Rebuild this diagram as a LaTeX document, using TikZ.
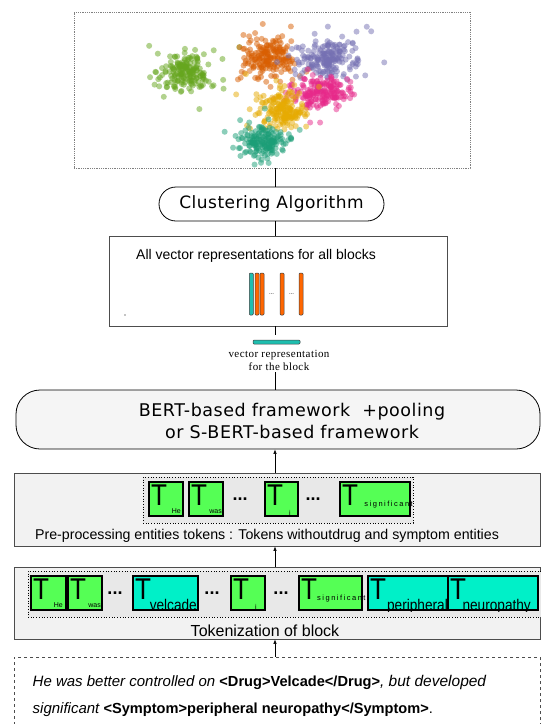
\documentclass[tikz,border=0pt]{standalone}
\usepackage{fontspec}
\setmainfont{Liberation Sans}
\newfontfamily\dvs{DejaVu Sans}
\newfontfamily\lserif{Liberation Serif}
\usetikzlibrary{calc,arrows.meta}
\definecolor{tgreen}{RGB}{85,255,85}
\definecolor{tteal}{RGB}{0,240,200}
\definecolor{vteal}{RGB}{30,190,175}
\definecolor{vorange}{RGB}{255,102,0}
\definecolor{dkteal}{HTML}{1B9E77}
\definecolor{dkorange}{HTML}{D95F02}
\definecolor{dkpurple}{HTML}{7570B3}
\definecolor{dkpink}{HTML}{E7298A}
\definecolor{dkgreen}{HTML}{66A61E}
\definecolor{dkyellow}{HTML}{E6AB02}
\definecolor{boxline}{HTML}{4D4D4D}
\definecolor{panelfill}{HTML}{F2F2F2}
\definecolor{innerfill}{HTML}{E8E8E8}
\tikzset{
  conn/.style={draw=black, line width=0.6pt},
  arr/.style={draw=black, line width=0.6pt, -{Latex[length=4.5pt,width=3.5pt]}},
  panel/.style={draw=boxline, line width=0.8pt, fill=panelfill, inner sep=0pt},
  inner/.style={draw=black, dotted, line width=0.7pt, fill=innerfill, inner sep=0pt},
  tok/.style={draw=black, line width=2pt, inner sep=0pt, minimum height=34pt},
  bigT/.style={anchor=north west, inner sep=0pt, font=\fontsize{30}{30}\selectfont},
  subs/.style={anchor=south east, inner sep=0pt, font=\fontsize{7}{7}\selectfont},
  widesub/.style={anchor=base east, inner sep=0pt, font=\fontsize{15.5}{15.5}\selectfont},
  dots/.style={inner sep=0pt, font=\fontsize{18}{18}\selectfont\bfseries},
  pt/.style={fill=#1, fill opacity=0.5},
}
\newcommand\bigTT{\scalebox{0.87}[1]{T}}
\newcommand\condensed[1]{\scalebox{0.88}[1]{#1}}
\begin{document}
\begin{tikzpicture}[x=1pt,y=-1pt]
\useasboundingbox (0,0) rectangle (541,724);
\coordinate (axis) at (275,0);

% ---------- scatter plot ----------
\node[draw=gray, densely dotted, line width=0.8pt, fill=white, minimum width=396pt, minimum height=156pt, inner sep=0pt] (scat) at (272,90) {};
\pgfmathsetseed{11}
\foreach \cx/\cy/\sx/\sy/\n/\col in {
  184/73/11/8/140/dkgreen, 188/76/22/16/40/dkgreen,
  267/58/12/9/160/dkorange, 266/60/22/17/35/dkorange,
  325/60/15/10/160/dkpurple, 325/60/22/16/30/dkpurple,
  322/92/15/7/160/dkpink, 322/92/22/12/25/dkpink,
  281/108/11/9/150/dkyellow, 280/106/20/15/25/dkyellow,
  263/142/11/8/140/dkteal, 262/140/20/14/25/dkteal}{
  \foreach \k in {1,...,\n}{
    \pgfmathsetmacro\px{\cx+\sx*(rand+rand+rand)}
    \pgfmathsetmacro\py{\cy+\sy*(rand+rand+rand)}
    \fill[pt=\col] (\px,\py) circle[radius=3];
  }
}

% ---------- clustering ----------
\node[draw=black, line width=0.8pt, fill=white, rounded corners=17pt, minimum width=225pt, minimum height=34pt, inner sep=0pt,
      font=\dvs\addfontfeatures{LetterSpace=3}\fontsize{17}{17}\selectfont] (clus) at (271.5,204) {Clustering Algorithm};

% ---------- vector box ----------
\node[draw=boxline, line width=0.8pt, fill=white, minimum width=338pt, minimum height=90pt, inner sep=0pt] (vec) at (278,281) {};
\node[anchor=west, inner sep=0pt, font=\fontsize{14}{14}\selectfont] (vtitle) at (136,256) {All vector representations for all blocks};
\foreach \bx/\bc [count=\i] in {251.3/vteal, 257/vorange, 262/vorange, 282/vorange, 301/vorange}{
  \node[draw=black!75, line width=0.5pt, fill=\bc, rounded corners=1pt, minimum width=4pt, minimum height=42pt, inner sep=0pt] (bar\i) at (\bx,294) {};
}
\node[inner sep=0pt, font=\fontsize{6}{6}\selectfont] (vd1) at (271.5,294) {...};
\node[inner sep=0pt, font=\fontsize{6}{6}\selectfont] (vd2) at (291.5,294) {...};
\fill (125,315) circle[radius=0.7];

\node[draw=black!75, line width=0.5pt, fill=vteal, rounded corners=1pt, minimum width=47pt, minimum height=4pt, inner sep=0pt] (vbar) at (276.5,342) {};
\coordinate (vtick) at (275,335);
\node[align=center, inner sep=2pt, font=\lserif\addfontfeatures{LetterSpace=4}\fontsize{11}{13}\selectfont] (vtxt) at (279,360) {vector representation\\for the block};

% ---------- BERT ----------
\node[draw=black, line width=0.8pt, fill=white!96!black, rounded corners=24pt, minimum width=524pt, minimum height=59pt, inner sep=0pt] (bert) at (278,419.5) {};
\node[inner sep=0pt, align=center, font=\dvs\addfontfeatures{LetterSpace=3}\fontsize{17.5}{22}\selectfont] (berttxt) at (292,421) {BERT-based framework\ \ +pooling\\or S-BERT-based framework};

% ---------- pre-processing ----------
\node[panel, minimum width=526pt, minimum height=73pt] (pre) at (277,509.5) {};
\node[inner, minimum width=270pt, minimum height=46pt] (preIn) at (278,500) {};
\foreach \nm/\cx/\w in {pHe/166/34, pwas/206/34, pi/281.5/33, psig/375/70}{
  \node[tok, fill=tgreen, minimum width=\w pt] (\nm) at (\cx,498.5) {};
  \node[bigT] (\nm T) at ([xshift=3pt,yshift=-4pt]\nm.north west) {\bigTT};
}
\node[subs] (pHes) at ([xshift=-3pt,yshift=3pt]pHe.south east) {He};
\node[subs] (pwass) at ([xshift=-2pt,yshift=3pt]pwas.south east) {was};
\node[subs] (pis) at ([xshift=-8pt,yshift=1pt]pi.south east) {i};
\node[anchor=east, inner sep=0pt, font=\fontsize{7.5}{7.5}\selectfont\addfontfeatures{LetterSpace=20}] (psigs) at ([xshift=2pt,yshift=-6pt]psig.east) {significant};
\node[dots] (pd1) at (240,499) {...};
\node[dots] (pd2) at (313,499) {...};
\node[inner sep=0pt, font=\fontsize{14.2}{14.2}\selectfont] (prelab) at (267,536) {Pre-processing entities tokens : Tokens withoutdrug and symptom entities};

% ---------- tokenization ----------
\node[panel, minimum width=526pt, minimum height=72pt] (tok) at (277,603) {};
\node[inner, minimum width=517pt, minimum height=46pt] (tokIn) at (286.5,594) {};
\foreach \nm/\cx/\w/\c in {tHe/48.5/35/tgreen, twas/85/34/tgreen, tvel/165.5/65/tteal, ti/248/34/tgreen, tsig/330.5/63/tgreen, tper/408/80/tteal, tneu/493/90/tteal}{
  \node[tok, fill=\c, minimum width=\w pt] (\nm) at (\cx,593) {};
  \node[bigT] (\nm T) at ([xshift=3pt,yshift=-4pt]\nm.north west) {\bigTT};
}
\node[subs] (tHes) at ([xshift=-4pt,yshift=3pt]tHe.south east) {He};
\node[subs] (twass) at ([xshift=-2pt,yshift=3pt]twas.south east) {was};
\node[subs] (tis) at ([xshift=-9pt,yshift=1pt]ti.south east) {i};
\node[anchor=west, inner sep=0pt, font=\fontsize{7.5}{7.5}\selectfont\addfontfeatures{LetterSpace=20}] (tsigs) at ([xshift=19pt,yshift=-6pt]tsig.west) {significant};
\foreach \nm/\txt/\dx in {tvel/velcade/-2, tper/peripheral/-1, tneu/neuropathy/-8}{
  \begin{scope}
    \clip (\nm.south west) rectangle (\nm.north east);
    \node[widesub] (\nm s) at ([xshift=\dx pt,yshift=1pt]\nm.south east) {\condensed{\txt}};
  \end{scope}
}
\node[dots] (td1) at (115,593) {...};
\node[dots] (td2) at (212,593) {...};
\node[dots] (td3) at (281,593) {...};
\node[inner sep=0pt, font=\fontsize{16}{16}\selectfont] (toklab) at (265,631) {Tokenization of block};

% ---------- sentence ----------
\node[draw=boxline, dashed, line width=0.6pt, fill=white, minimum width=526pt, minimum height=83pt, inner sep=0pt] (sent) at (277,698.5) {};
\node[anchor=base west, inner sep=0pt, font=\fontsize{15}{15}\selectfont] (s1) at (32.5,686) {\itshape He was better controlled on \upshape\bfseries\fontsize{14.6}{15}\selectfont <Drug>Velcade</Drug>\mdseries\itshape\fontsize{15.5}{15}\selectfont , but developed};
\node[anchor=base west, inner sep=0pt, font=\fontsize{15}{15}\selectfont] (s2) at (32.5,713) {\itshape significant \upshape\bfseries\fontsize{14.6}{15}\selectfont <Symptom>peripheral neuropathy</Symptom>\mdseries .};

% ---------- connectors ----------
\draw[conn] (scat.south -| axis) -- (clus.north -| axis);
\draw[conn] (clus.south -| axis) -- (vec.north -| axis);
\draw[conn] (vec.south -| axis) -- (vtick);
\draw[conn] (vtxt.south -| axis) -- (bert.north -| axis);
\draw[arr] (pre.north -| axis) -- (bert.south -| axis);
\draw[arr] (tok.north -| axis) -- (pre.south -| axis);
\draw[arr] (sent.north -| axis) -- (tok.south -| axis);
\end{tikzpicture}
\end{document}
